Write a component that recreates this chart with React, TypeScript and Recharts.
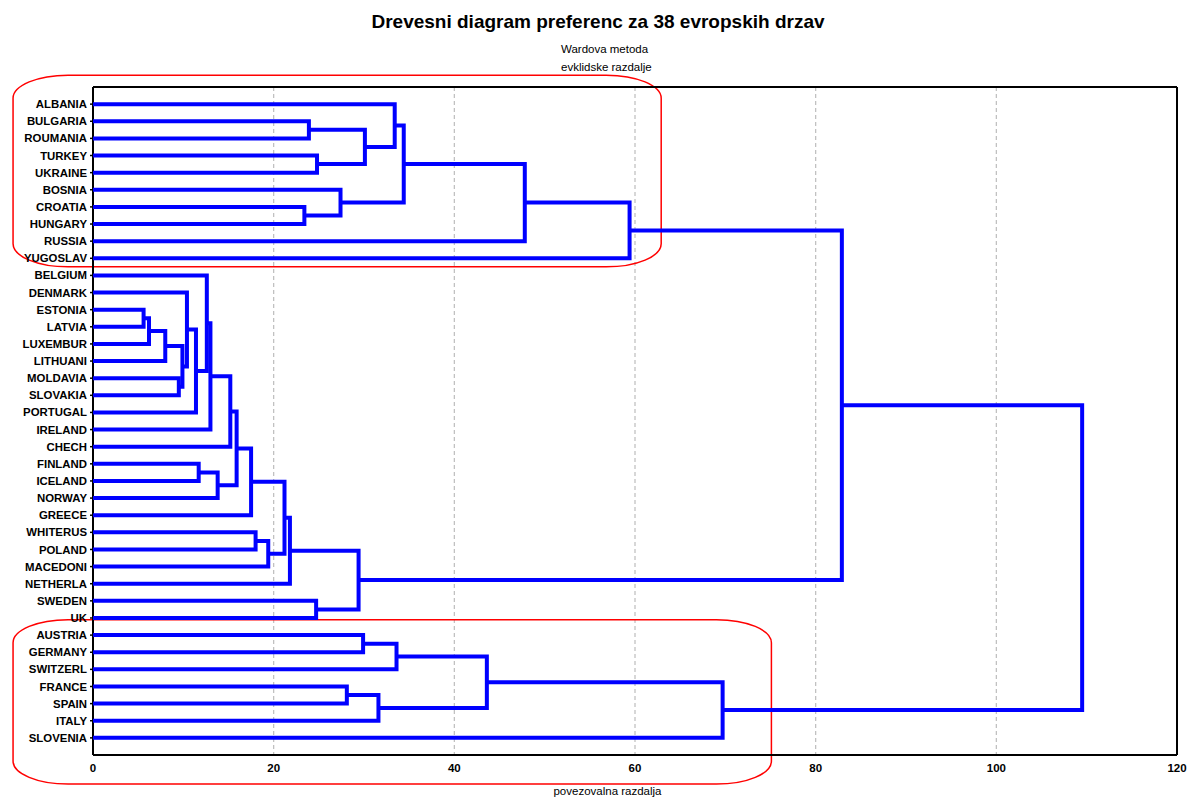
import { ScatterChart, Scatter, XAxis, YAxis, CartesianGrid, ReferenceArea } from 'recharts'

const FONT = 'Arial, "Liberation Sans", sans-serif'

// leaves, top to bottom
const leaves = [
  'ALBANIA', 'BULGARIA', 'ROUMANIA', 'TURKEY', 'UKRAINE', 'BOSNIA', 'CROATIA', 'HUNGARY', 'RUSSIA', 'YUGOSLAV',
  'BELGIUM', 'DENMARK', 'ESTONIA', 'LATVIA', 'LUXEMBUR', 'LITHUANI', 'MOLDAVIA', 'SLOVAKIA', 'PORTUGAL', 'IRELAND',
  'CHECH', 'FINLAND', 'ICELAND', 'NORWAY', 'GREECE', 'WHITERUS', 'POLAND', 'MACEDONI', 'NETHERLA', 'SWEDEN',
  'UK', 'AUSTRIA', 'GERMANY', 'SWITZERL', 'FRANCE', 'SPAIN', 'ITALY', 'SLOVENIA',
]

// linkage: node ids < 38 are leaves, 38 + i is the cluster made by merge i
const mergeLeft = [12, 38, 39, 16, 40, 11, 43, 10, 45, 46, 21, 48, 47, 50, 25, 52, 51, 54, 29, 55, 1, 3, 58, 0, 6, 5, 61, 64, 65, 66, 31, 68, 34, 70, 69, 72, 67]
const mergeRight = [13, 14, 15, 17, 41, 42, 18, 44, 19, 20, 22, 23, 49, 24, 26, 27, 53, 28, 30, 56, 2, 4, 59, 60, 7, 62, 63, 8, 9, 57, 32, 33, 35, 36, 71, 37, 73]
const mergeHeight = [5.6, 6.2, 8.0, 9.5, 9.9, 10.4, 11.4, 12.6, 13.0, 15.2, 11.7, 13.8, 15.9, 17.5, 18.0, 19.4, 21.2, 21.8, 24.7, 29.4,
  23.9, 24.8, 30.1, 33.4, 23.4, 27.4, 34.4, 47.8, 59.4, 82.9, 29.9, 33.6, 28.1, 31.6, 43.6, 69.7, 109.5]

const xTicks = [0, 20, 40, 60, 80, 100, 120]
const xMinorTicks = [0, 4, 8, 12, 16, 20, 24, 28, 32, 36, 40, 44, 48, 52, 56, 60, 64, 68, 72, 76, 80, 84, 88, 92, 96, 100, 104, 108, 112, 116, 120]
const rowTicks = leaves.map((_, i) => i)

// the two red groups drawn over the tree (x in distance units, y in rows)
const groups = [
  { x1: -8.85, x2: 62.9, y1: -1.69, y2: 9.5 },
  { x1: -8.85, x2: 75.1, y1: 30.1, y2: 39.7 },
]

const nodes = leaves.map((_, i) => ({ x: 0, y: i }))
const links = mergeHeight.map((h, i) => {
  const a = nodes[mergeLeft[i]]
  const b = nodes[mergeRight[i]]
  nodes.push({ x: h, y: (a.y + b.y) / 2 })
  return [
    { x: a.x, y: a.y },
    { x: h, y: a.y },
    { x: h, y: b.y },
    { x: b.x, y: b.y },
  ]
})

const NoDot = () => <g />

const GroupShape = (p: any) => (
  <rect x={p.x} y={p.y} width={p.width} height={p.height} rx={55} ry={23} fill="none" stroke="#ff0000" strokeWidth={1.5} />
)

export default function App() {
  return (
    <div style={{ position: 'absolute', left: 0, top: 0, width: 1190, height: 798, background: '#fff', fontFamily: FONT }}>
      <div style={{ position: 'absolute', left: 0, width: 1196, top: 11, textAlign: 'center', fontSize: 19, fontWeight: 'bold', lineHeight: '22px' }}>
        Drevesni diagram preferenc za 38 evropskih drzav
      </div>
      <div style={{ position: 'absolute', left: 561, top: 40, fontSize: 11.5, lineHeight: '18px' }}>
        Wardova metoda<br />evklidske razdalje
      </div>
      <div style={{ position: 'absolute', left: 0, width: 1215, top: 784, textAlign: 'center', fontSize: 11.5, lineHeight: '14px' }}>
        povezovalna razdalja
      </div>
      <ScatterChart width={1190} height={798} margin={{ top: 87, right: 13, bottom: 13, left: 0 }} style={{ position: 'absolute', left: 0, top: 0 }}>
        <CartesianGrid horizontal={false} stroke="#bdbdbd" strokeDasharray="4 3" strokeWidth={1.2} />
        <XAxis
          type="number"
          dataKey="x"
          domain={[0, 120]}
          ticks={xTicks}
          interval={0}
          height={30}
          tickLine={false}
          tickSize={0}
          tickMargin={9}
          axisLine={{ stroke: '#000', strokeWidth: 2 }}
          tick={{ fill: '#000', fontSize: 11.5, fontWeight: 'bold', fontFamily: FONT }}
        />
        <XAxis
          xAxisId="minor"
          type="number"
          dataKey="x"
          orientation="bottom"
          mirror
          domain={[0, 120]}
          ticks={xMinorTicks}
          interval={0}
          tick={false}
          tickSize={4}
          axisLine={false}
          tickLine={{ stroke: '#000', strokeWidth: 1.5 }}
        />
        <XAxis
          xAxisId="top"
          type="number"
          dataKey="x"
          orientation="top"
          mirror
          domain={[0, 120]}
          ticks={xTicks}
          interval={0}
          tick={false}
          tickSize={4}
          axisLine={{ stroke: '#000', strokeWidth: 2 }}
          tickLine={{ stroke: '#000', strokeWidth: 1.5 }}
        />
        <YAxis
          type="number"
          dataKey="y"
          domain={[-1, 38]}
          reversed
          ticks={rowTicks}
          interval={0}
          width={93}
          tickSize={3}
          tickMargin={3}
          tickFormatter={(v: number) => leaves[v] ?? ''}
          axisLine={{ stroke: '#000', strokeWidth: 2 }}
          tickLine={{ stroke: '#000', strokeWidth: 1.5 }}
          tick={{ fill: '#000', fontSize: 11.4, fontWeight: 'bold', fontFamily: FONT }}
        />
        <YAxis
          yAxisId="right"
          type="number"
          dataKey="y"
          orientation="right"
          mirror
          domain={[-1, 38]}
          reversed
          ticks={rowTicks}
          interval={0}
          tick={false}
          tickSize={4}
          axisLine={{ stroke: '#000', strokeWidth: 2 }}
          tickLine={{ stroke: '#000', strokeWidth: 1.5 }}
        />
        {links.map((pts, i) => (
          <Scatter
            key={i}
            data={pts}
            line={{ stroke: '#0000ff', strokeWidth: 4, strokeLinejoin: 'miter' }}
            shape={NoDot}
            legendType="none"
            isAnimationActive={false}
          />
        ))}
        {groups.map((g, i) => (
          <ReferenceArea key={i} x1={g.x1} x2={g.x2} y1={g.y1} y2={g.y2} ifOverflow="visible" shape={GroupShape} />
        ))}
      </ScatterChart>
    </div>
  )
}
